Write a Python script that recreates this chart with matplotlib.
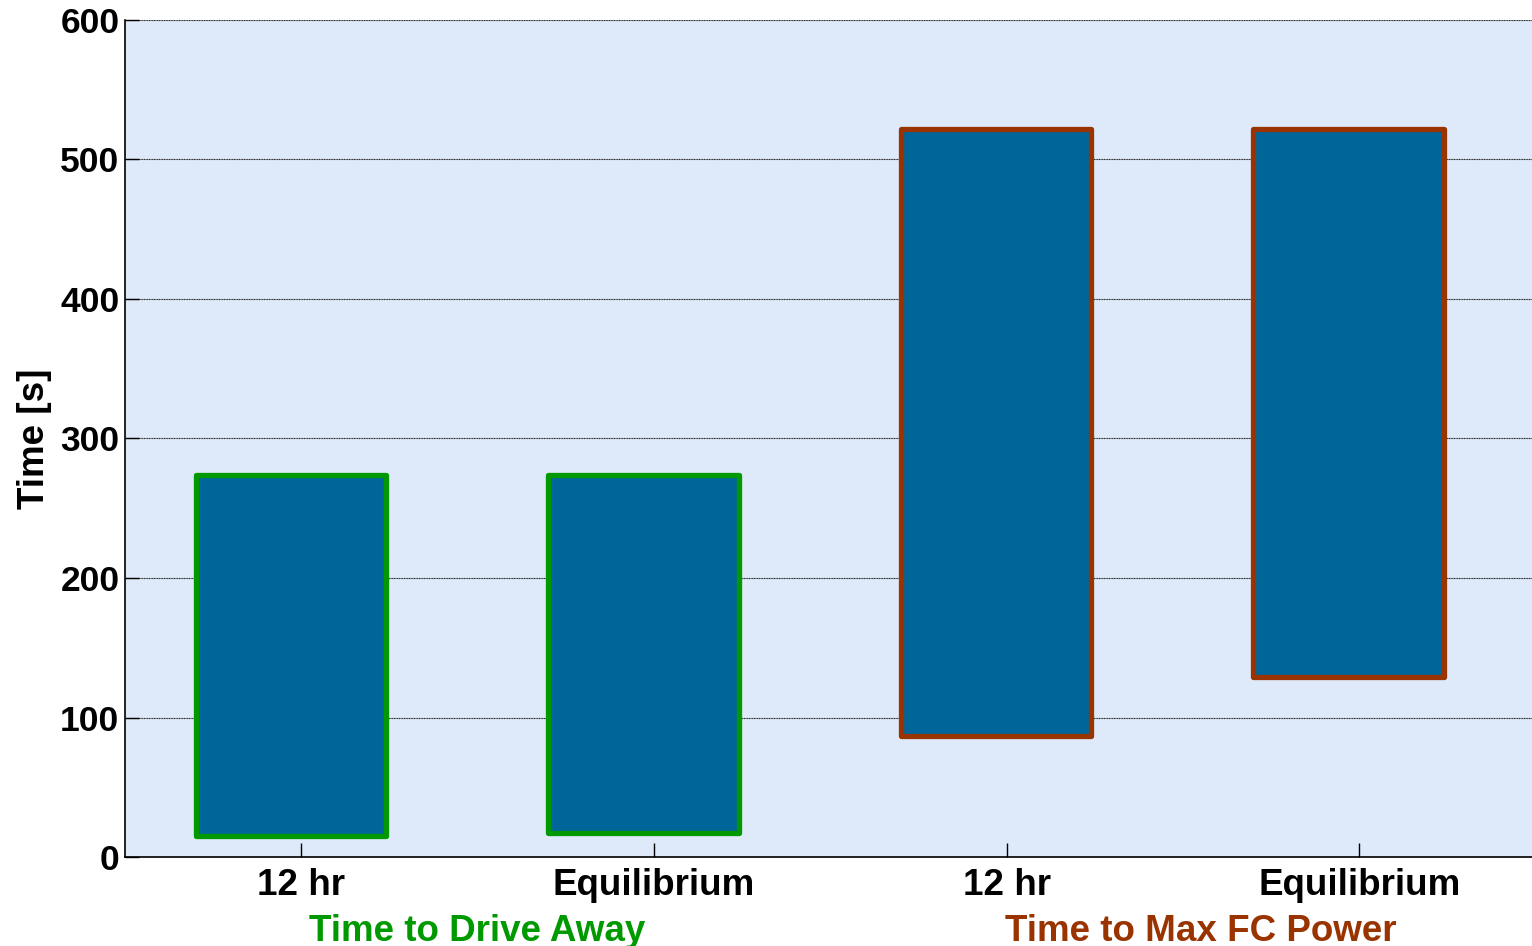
import numpy as np
import matplotlib.pyplot as plt
import matplotlib.transforms as mtransforms

plt.rcParams['font.family'] = ['Liberation Sans', 'DejaVu Sans']
plt.rcParams['font.weight'] = 'bold'

# данные
cases = ['12 hr', 'Equilibrium', '12 hr', 'Equilibrium']
t_low = [15, 17, 87, 129]
t_high = [274, 274, 522, 522]
groups = ['Time to Drive Away', 'Time to Max FC Power']
group_pos = [1.5, 3.55]
group_colors = ['#009900', '#993300']
edge_colors = ['#009900', '#009900', '#993300', '#993300']

x = np.arange(1, len(cases) + 1)
heights = np.array(t_high) - np.array(t_low)

fig = plt.figure(figsize=(15.32, 9.46), dpi=100)
ax = fig.add_axes([0.0816, 0.094, 0.9207, 0.885])
ax.set_facecolor('#DEEAF9')

bars = ax.bar(x - 0.03, heights, width=0.54, bottom=t_low, color='#006699',
              edgecolor=edge_colors, linewidth=3.8, zorder=3)
for b in bars:
    b.set_joinstyle('round')

ax.set_xlim(0.5, 4.5)
ax.set_ylim(0, 600)
ax.set_yticks(range(0, 601, 100))
ax.set_xticks(x)
ax.set_xticklabels(cases)
ax.tick_params(direction='in', length=10, width=1)
ax.tick_params(axis='x', labelsize=26.5, pad=8)
ax.tick_params(axis='y', labelsize=25.5, pad=4)
ax.grid(axis='y', color='#222222', linestyle=(0, (1, 0.5)), linewidth=0.8, zorder=1)
ax.set_axisbelow(True)
for s in ['top', 'right']:
    ax.spines[s].set_visible(False)
ax.spines['left'].set_linewidth(1.2)
ax.spines['bottom'].set_linewidth(1.2)
ax.set_ylabel('Time [s]', fontsize=26.5, fontweight='bold', labelpad=6)

trans = mtransforms.blended_transform_factory(ax.transData, fig.transFigure)
for name, pos, c in zip(groups, group_pos, group_colors):
    ax.text(pos, 1 - 931 / 946, name, transform=trans, ha='center', va='center',
            fontsize=26.5, fontweight='bold', color=c)

fig.savefig('out.png', dpi=100)
